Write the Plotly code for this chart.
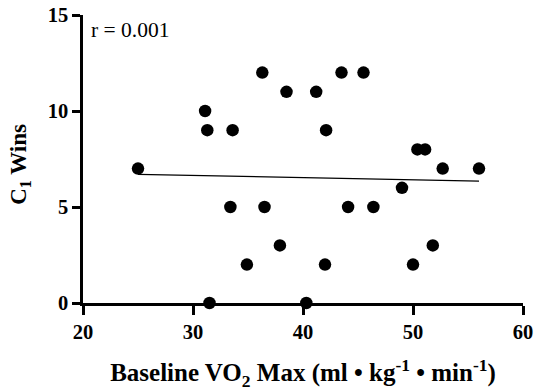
import plotly.graph_objects as go

vo2 = [25.0, 31.5, 31.1, 31.3, 33.6, 33.4, 34.9, 36.3, 36.5, 37.9, 38.5, 40.3,
       41.2, 42.1, 42.0, 43.5, 44.1, 45.5, 46.4, 49.0, 50.4, 51.1, 50.0, 51.8,
       52.7, 56.0]
wins = [7, 0, 10, 9, 9, 5, 2, 12, 5, 3, 11, 0,
        11, 9, 2, 12, 5, 12, 5, 6, 8, 8, 2, 3,
        7, 7]
fit_x = [25.0, 56.0]
fit_y = [6.7, 6.35]
x_ticks = [20, 30, 40, 50, 60]
y_ticks = [0, 5, 10, 15]

font = "Liberation Serif"

fig = go.Figure()
fig.add_trace(go.Scatter(x=fit_x, y=fit_y, mode="lines",
                         line=dict(color="black", width=1.3), hoverinfo="skip",
                         cliponaxis=False))
fig.add_trace(go.Scatter(x=vo2, y=wins, mode="markers",
                         marker=dict(color="black", size=12.5), cliponaxis=False))

fig.update_layout(
    width=536, height=391,
    margin=dict(l=83, r=13, t=15, b=88, autoexpand=False),
    paper_bgcolor="white", plot_bgcolor="white",
    showlegend=False,
    font=dict(family=font, color="black", size=18),
    xaxis=dict(range=[20, 60], tickvals=x_ticks,
               ticktext=["<b>%d</b>" % v for v in x_ticks],
               showgrid=False, zeroline=False, automargin=False,
               ticklabeloverflow="allow",
               showline=True, linecolor="black", linewidth=2.5,
               ticks="outside", ticklen=9, tickwidth=2.5, tickcolor="black",
               tickfont=dict(size=20.5, family=font, color="black"),
               title=dict(text="<b>Baseline VO<sub>2</sub> Max (ml • kg<sup>-1</sup> • min<sup>-1</sup>)</b>",
                          font=dict(size=25, family=font, color="black"), standoff=22)),
    yaxis=dict(range=[0, 15], tickvals=y_ticks,
               ticktext=["<b>%d</b>" % v for v in y_ticks],
               showgrid=False, zeroline=False, automargin=False,
               ticklabeloverflow="allow",
               showline=True, linecolor="black", linewidth=2.5,
               ticks="outside", ticklen=8, tickwidth=2.5, tickcolor="black",
               tickfont=dict(size=20.5, family=font, color="black")),
    annotations=[
        dict(text="r = 0.001", xref="paper", yref="paper",
             x=0.013, y=0.995, xanchor="left", yanchor="top",
             showarrow=False, font=dict(size=21.5, family=font, color="black")),
        dict(text="<b>C<sub>1</sub> Wins</b>", xref="paper", yref="paper",
             x=-0.143, y=0.48, xanchor="center", yanchor="middle", textangle=-90,
             showarrow=False, font=dict(size=23, family=font, color="black")),
    ],
)

fig.write_html("out.html", config={"displayModeBar": False},
               post_script="document.body.style.margin='0';document.body.style.overflow='hidden';")
